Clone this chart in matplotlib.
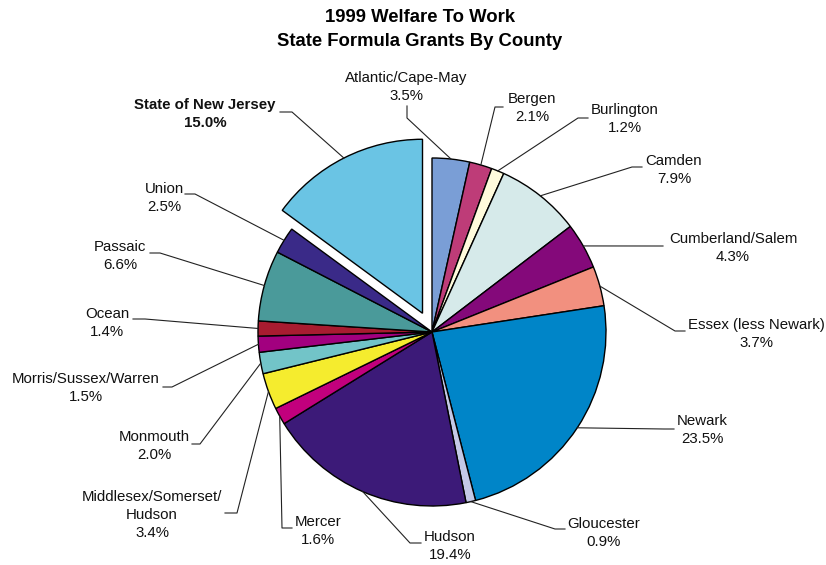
import numpy as np
import matplotlib
matplotlib.use("Agg")
import matplotlib.pyplot as plt

plt.rcParams['font.family'] = ['Liberation Sans', 'DejaVu Sans']

# ---- data ----
counties = ["Atlantic/Cape-May", "Bergen", "Burlington", "Camden", "Cumberland/Salem",
            "Essex (less Newark)", "Newark", "Gloucester", "Hudson", "Mercer",
            "Middlesex/Somerset/\nHudson", "Monmouth", "Morris/Sussex/Warren", "Ocean",
            "Passaic", "Union", "State of New Jersey"]
shares = [3.5, 2.1, 1.2, 7.9, 4.3, 3.7, 23.5, 0.9, 19.4, 1.6, 3.4, 2.0, 1.5, 1.4, 6.6, 2.5, 15.0]
pct_labels = ["3.5%", "2.1%", "1.2%", "7.9%", "4.3%", "3.7%", "23.5%", "0.9%", "19.4%", "1.6%",
              "3.4%", "2.0%", "1.5%", "1.4%", "6.6%", "2.5%", "15.0%"]

colors = ["#7A9ED6", "#BE3C78", "#FFFBDC", "#D6EAEA", "#84097A", "#F2907F", "#0085C8",
          "#C4C8E6", "#3C1A78", "#C2007D", "#F5EC2E", "#72C4C8", "#A2007F", "#A81C30",
          "#4A9A9A", "#3A2A88", "#6AC4E4"]

W, H = 826, 565
R = 174
explode = [0]*16 + [21]   # data units (pixels)

def Y(y):
    return H - y

# label layout (pixel coords, top origin): text center, elbow, end of leader
layout = [
    ((406, 87), (407, 118), (407, 106)),
    ((532, 108), (495, 107), (503, 107)),
    ((625, 119), (578, 118), (588, 118)),
    ((674, 170), (632, 167), (642, 167)),
    ((733, 248), (655, 246), (663, 246)),
    ((756, 334), (675, 331), (685, 331)),
    ((702, 430), (664, 429), (674, 429)),
    ((604, 533), (555, 529), (565, 529)),
    ((450, 546), (410, 543), (421, 543)),
    ((318, 531), (282, 528), (292, 528)),
    ((152, 515), (237, 513), (225, 513)),
    ((154, 446), (200, 444), (192, 444)),
    ((86, 388), (172, 387), (163, 387)),
    ((107, 323), (145, 319), (133, 319)),
    ((120, 256), (160, 253), (150, 253)),
    ((164, 198), (195, 194), (185, 194)),
    ((205, 114), (292, 112), (280, 112)),
]

fig = plt.figure(figsize=(W/100, H/100), dpi=100)
ax = fig.add_axes([0, 0, 1, 1])
wedges, _ = ax.pie(shares, colors=colors, explode=explode, startangle=90,
                   counterclock=False, center=(432, Y(332)), radius=R,
                   wedgeprops=dict(edgecolor='black', linewidth=1.0))
ax.set_xlim(0, W)
ax.set_ylim(0, H)
ax.set_aspect('equal')
ax.axis('off')

for i, w in enumerate(wedges):
    mid = np.deg2rad((w.theta1 + w.theta2) / 2)
    cx, cy = w.center
    px, py = cx + w.r*np.cos(mid), cy + w.r*np.sin(mid)
    (tx, ty), (ex, ey), (fx, fy) = layout[i]
    ax.plot([px, ex, fx], [py, Y(ey), Y(fy)], color='#222222', lw=0.8, zorder=1)
    bold = counties[i] == "State of New Jersey"
    ax.text(tx, Y(ty), counties[i] + "\n" + pct_labels[i], ha='center', va='center',
            multialignment='center', fontsize=10.8, linespacing=1.4,
            fontweight='bold' if bold else 'normal', color='#111111')

ax.text(420, Y(18), "1999 Welfare To Work", ha='center', va='center',
        fontsize=13.3, fontweight='bold')
ax.text(420, Y(42), "State Formula Grants By County", ha='center', va='center',
        fontsize=13.3, fontweight='bold')

fig.savefig("out.png", dpi=100)
